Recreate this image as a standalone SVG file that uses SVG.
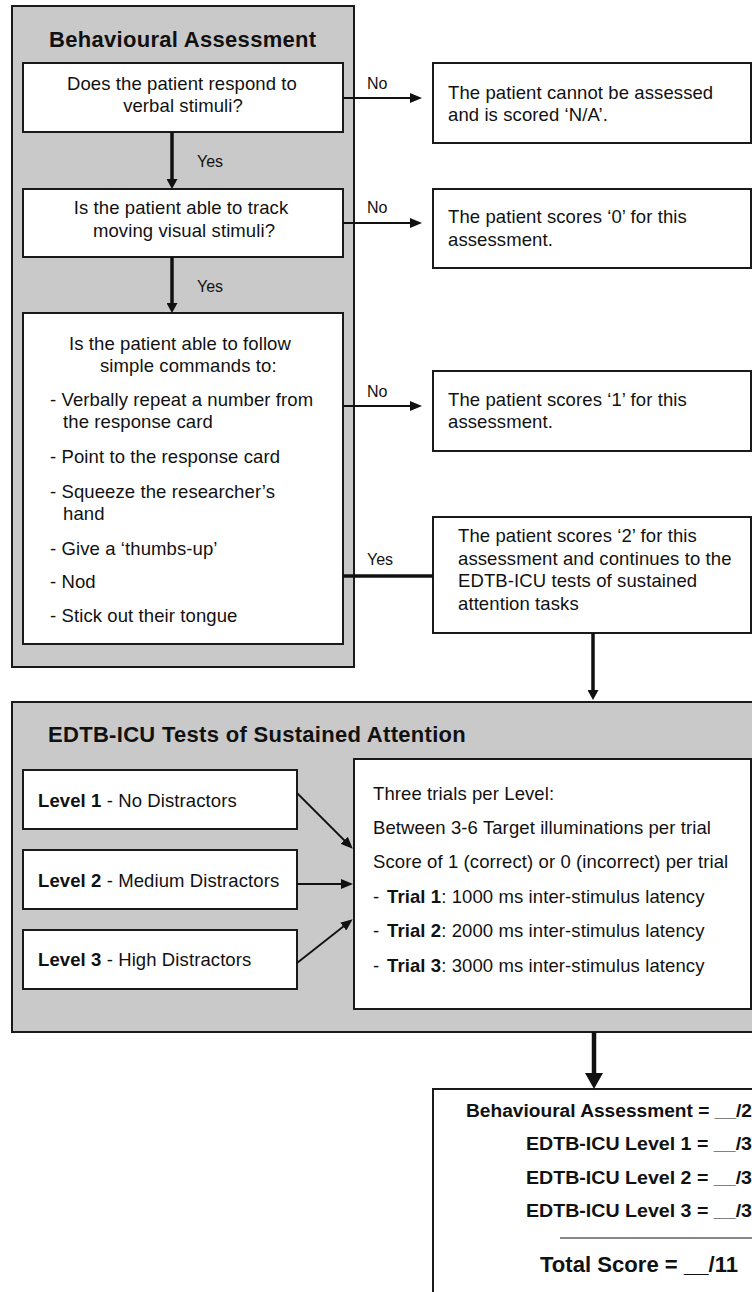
<svg xmlns="http://www.w3.org/2000/svg" width="752" height="1292" viewBox="0 0 752 1292">
<style>
.panel{fill:#c9c9c9;stroke:#1a1a1a;stroke-width:2}
.box{fill:#fff;stroke:#1a1a1a;stroke-width:2}
text{font-family:"Liberation Sans",Arial,sans-serif;fill:#111}
.t{font-size:18.5px;letter-spacing:0.1px}
.h{font-size:22px;font-weight:bold;letter-spacing:0.3px}
.l{font-size:16px}
.b{font-weight:bold}
.s{font-size:17.5px;font-weight:bold}
.c{stroke:#111;fill:none}
.thin{stroke-width:1.8}
.thick{stroke-width:3.5}
.heavy{stroke-width:4.5}
</style>
<defs>
<marker id="ah" viewBox="0 0 12 10" refX="1" refY="5" markerWidth="12" markerHeight="10" markerUnits="userSpaceOnUse" orient="auto"><path d="M0,0 L12,5 L0,10 z" fill="#111"/></marker>
<marker id="av" viewBox="0 0 10 11" refX="1" refY="5.5" markerWidth="10" markerHeight="11" markerUnits="userSpaceOnUse" orient="auto"><path d="M0,0 L10,5.5 L0,11 z" fill="#111"/></marker>
<marker id="ab" viewBox="0 0 16 18" refX="1" refY="9" markerWidth="16" markerHeight="18" markerUnits="userSpaceOnUse" orient="auto"><path d="M0,0 L16,9 L0,18 z" fill="#111"/></marker>
</defs>
<rect x="0" y="0" width="752" height="1292" fill="#fff"/>

<g id="panel-behavioural">
<rect class="panel" x="12" y="6" width="342" height="661"/>
<text class="h" x="49" y="47">Behavioural Assessment</text>
</g>

<g id="q1">
<rect class="box" x="23" y="63" width="320" height="69"/>
<text class="t" x="182" y="90" text-anchor="middle">Does the patient respond to</text>
<text class="t" x="183" y="112" text-anchor="middle">verbal stimuli?</text>
</g>

<g id="q2">
<rect class="box" x="23" y="189" width="320" height="68"/>
<text class="t" x="181" y="214" text-anchor="middle">Is the patient able to track</text>
<text class="t" x="184" y="237" text-anchor="middle">moving visual stimuli?</text>
</g>

<g id="q3">
<rect class="box" x="23" y="313" width="320" height="331"/>
<text class="t" x="69" y="350">Is the patient able to follow</text>
<text class="t" x="100" y="372">simple commands to:</text>
<text class="t" x="50" y="406">- Verbally repeat a number from</text>
<text class="t" x="63" y="428">the response card</text>
<text class="t" x="50" y="463">- Point to the response card</text>
<text class="t" x="50" y="498">- Squeeze the researcher’s</text>
<text class="t" x="63" y="520">hand</text>
<text class="t" x="50" y="555">- Give a ‘thumbs-up’</text>
<text class="t" x="50" y="588">- Nod</text>
<text class="t" x="50" y="622">- Stick out their tongue</text>
</g>

<g id="r-na">
<rect class="box" x="433" y="63" width="318" height="80"/>
<text class="t" x="448" y="99">The patient cannot be assessed</text>
<text class="t" x="448" y="121">and is scored ‘N/A’.</text>
</g>

<g id="r-0">
<rect class="box" x="433" y="189" width="318" height="79"/>
<text class="t" x="448" y="223">The patient scores ‘0’ for this</text>
<text class="t" x="448" y="246">assessment.</text>
</g>

<g id="r-1">
<rect class="box" x="433" y="371" width="318" height="80"/>
<text class="t" x="448" y="406">The patient scores ‘1’ for this</text>
<text class="t" x="448" y="428">assessment.</text>
</g>

<g id="r-2">
<rect class="box" x="433" y="517" width="318" height="116"/>
<text class="t" x="458" y="542">The patient scores ‘2’ for this</text>
<text class="t" x="458" y="565">assessment and continues to the</text>
<text class="t" x="458" y="587">EDTB-ICU tests of sustained</text>
<text class="t" x="458" y="610">attention tasks</text>
</g>

<g id="panel-edtb">
<rect class="panel" x="12" y="702" width="760" height="330"/>
<text class="h" x="48" y="742">EDTB-ICU Tests of Sustained Attention</text>
</g>

<g id="level1">
<rect class="box" x="23" y="770" width="274" height="59"/>
<text class="t" x="38" y="807"><tspan class="b">Level 1</tspan> - No Distractors</text>
</g>
<g id="level2">
<rect class="box" x="23" y="850" width="274" height="59"/>
<text class="t" x="38" y="887"><tspan class="b">Level 2</tspan> - Medium Distractors</text>
</g>
<g id="level3">
<rect class="box" x="23" y="930" width="274" height="59"/>
<text class="t" x="38" y="966"><tspan class="b">Level 3</tspan> - High Distractors</text>
</g>

<g id="trials">
<rect class="box" x="354" y="759" width="397" height="250"/>
<text class="t" x="373" y="800">Three trials per Level:</text>
<text class="t" x="373" y="834">Between 3-6 Target illuminations per trial</text>
<text class="t" x="373" y="868">Score of 1 (correct) or 0 (incorrect) per trial</text>
<text class="t" x="373" y="903">-<tspan x="387" class="b">Trial 1</tspan>: 1000 ms inter-stimulus latency</text>
<text class="t" x="373" y="937">-<tspan x="387" class="b">Trial 2</tspan>: 2000 ms inter-stimulus latency</text>
<text class="t" x="373" y="972">-<tspan x="387" class="b">Trial 3</tspan>: 3000 ms inter-stimulus latency</text>
</g>

<g id="score">
<rect class="box" x="433" y="1089" width="340" height="220"/>
<text class="s" x="466" y="1117" textLength="286" lengthAdjust="spacingAndGlyphs">Behavioural Assessment = __/2</text>
<text class="s" x="526" y="1150" textLength="226" lengthAdjust="spacingAndGlyphs">EDTB-ICU Level 1 = __/3</text>
<text class="s" x="526" y="1184" textLength="226" lengthAdjust="spacingAndGlyphs">EDTB-ICU Level 2 = __/3</text>
<text class="s" x="526" y="1217" textLength="226" lengthAdjust="spacingAndGlyphs">EDTB-ICU Level 3 = __/3</text>
<line x1="560" y1="1238" x2="760" y2="1238" stroke="#111" stroke-width="1.2"/>
<text class="s" x="540" y="1272" style="font-size:22.5px" textLength="198" lengthAdjust="spacingAndGlyphs">Total Score = __/11</text>
</g>

<g id="connectors">
<line class="c thick" x1="172" y1="132" x2="172" y2="180" marker-end="url(#av)"/>
<line class="c thick" x1="172" y1="257" x2="172" y2="304" marker-end="url(#av)"/>
<line class="c thin" x1="343" y1="98" x2="411" y2="98" marker-end="url(#ah)"/>
<line class="c thin" x1="343" y1="223" x2="411" y2="223" marker-end="url(#ah)"/>
<line class="c thin" x1="343" y1="406" x2="411" y2="406" marker-end="url(#ah)"/>
<line class="c thick" x1="343" y1="576" x2="433" y2="576"/>
<line class="c thick" x1="593" y1="633" x2="593" y2="691" marker-end="url(#av)"/>
<line class="c thin" x1="297" y1="793" x2="345" y2="841" marker-end="url(#ah)"/>
<line class="c thin" x1="297" y1="884" x2="342" y2="884" marker-end="url(#ah)"/>
<line class="c thin" x1="297" y1="963" x2="344" y2="926" marker-end="url(#ah)"/>
<line class="c heavy" x1="594" y1="1032" x2="594" y2="1074" marker-end="url(#ab)"/>
<text class="l" x="197" y="167">Yes</text>
<text class="l" x="197" y="292">Yes</text>
<text class="l" x="367" y="89">No</text>
<text class="l" x="367" y="213">No</text>
<text class="l" x="367" y="397">No</text>
<text class="l" x="367" y="565">Yes</text>
</g>
</svg>
